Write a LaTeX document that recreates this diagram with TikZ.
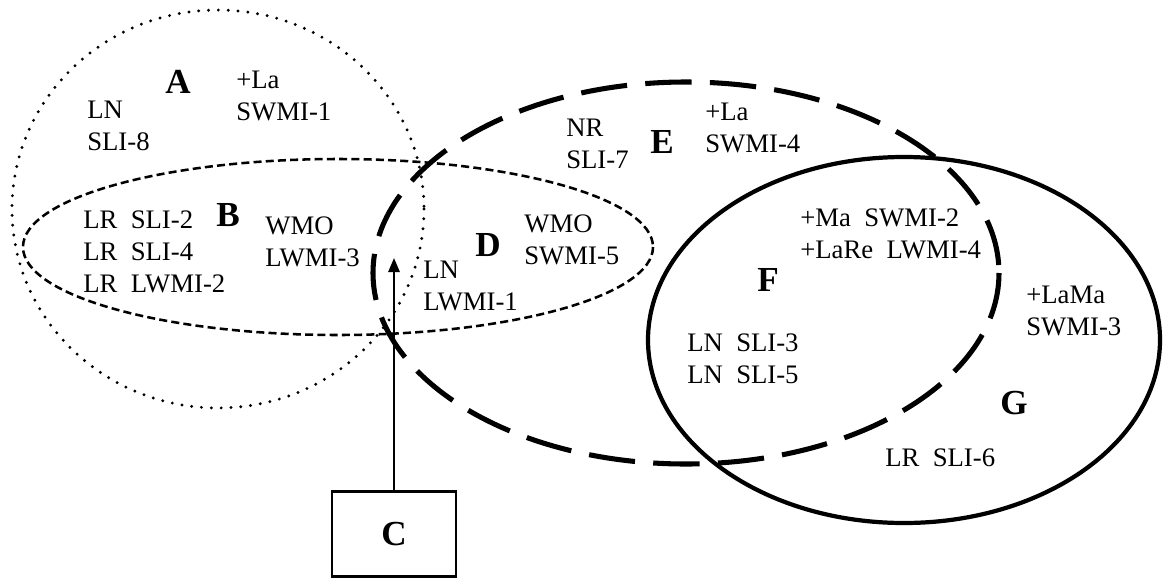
\documentclass[tikz,border=0pt]{standalone}
\usepackage{fontspec}
\setmainfont{Liberation Serif}
\usetikzlibrary{arrows.meta}

\begin{document}
\begin{tikzpicture}[x=0.025cm, y=-0.025cm,
  lbl/.style={font=\fontsize{19}{22.8}\selectfont, align=left, inner sep=0pt, anchor=west},
  setname/.style={font=\fontsize{25}{30}\selectfont\bfseries, inner sep=0pt},
  dotline/.style={line width=2.3pt, dash pattern=on 0pt off 7pt, line cap=round},
  thindash/.style={line width=1.8pt, dash pattern=on 5.7pt off 3pt},
  thickdash/.style={line width=3.6pt, dash pattern=on 33pt off 13pt},
  thickline/.style={line width=3pt},
  box/.style={draw, line width=2pt, minimum width=3.1cm, minimum height=2.125cm,
    font=\fontsize{25}{30}\selectfont\bfseries},
  arr/.style={line width=1.6pt, -{Triangle[length=10pt,width=8pt]}}]
\useasboundingbox (0,0) rectangle (1163,579);

% the four sets
\draw[dotline] (218,209) ellipse [x radius=206, y radius=199];
\draw[thindash] (338,247) ellipse [x radius=315, y radius=88];
\draw[thickdash] (686,273) ellipse [x radius=313, y radius=191];
\draw[thickline] (904,340) ellipse [x radius=256, y radius=183];

\node[setname] (A) at (178,82) {A};
\node[lbl] (tA1) at (87,126) {LN\\SLI-8};
\node[lbl] (tA2) at (236,96) {+La\\SWMI-1};

\node[setname] (B) at (228,215) {B};
\node[lbl] (tB1) at (83,252) {LR~~SLI-2\\LR~~SLI-4\\LR~~LWMI-2};
\node[lbl] (tB2) at (265,242) {WMO\\LWMI-3};

\node[setname] (D) at (488,245) {D};
\node[lbl] (tD1) at (423,286) {LN\\LWMI-1};
\node[lbl] (tD2) at (524,240) {WMO\\SWMI-5};

\node[setname] (E) at (662,142) {E};
\node[lbl] (tE1) at (566,144) {NR\\SLI-7};
\node[lbl] (tE2) at (705,128) {+La\\SWMI-4};

\node[setname] (F) at (768,280) {F};
\node[lbl] (tF1) at (800,234) {+Ma~~SWMI-2\\+LaRe~~LWMI-4};
\node[lbl] (tF2) at (687,359) {LN~~SLI-3\\LN~~SLI-5};

\node[setname] (G) at (1014,403) {G};
\node[lbl] (tG1) at (1026,311) {+LaMa\\SWMI-3};
\node[lbl] (tG2) at (885,458) {LR~~SLI-6};

\node[box] (C) at (394,534) {C};
\coordinate (tip) at (394,258);
\draw[arr] (C) -- (tip);

\end{tikzpicture}
\end{document}
